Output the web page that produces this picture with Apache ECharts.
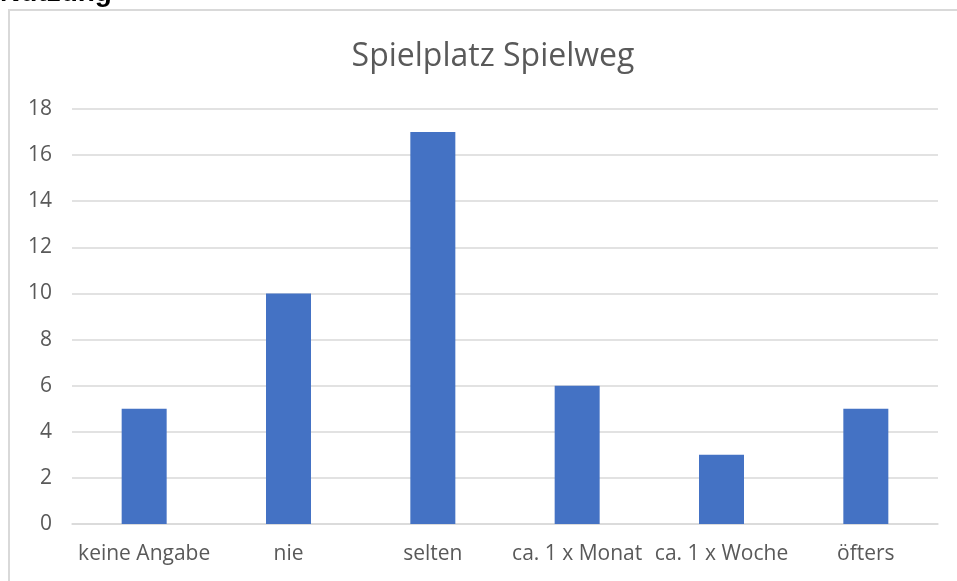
<!DOCTYPE html>
<html>
<head>
<meta charset="utf-8">
<script src="https://cdn.jsdelivr.net/npm/echarts@6/dist/echarts.min.js"></script>
<style>
  html, body { margin: 0; padding: 0; background: #fff; }
  #main { width: 957px; height: 581px; }
</style>
</head>
<body>
<div id="main"></div>
<script>
var categories = ['keine Angabe', 'nie', 'selten', 'ca. 1 x Monat', 'ca. 1 x Woche', 'öfters'];
var values = [5, 10, 17, 6, 3, 5];

var myChart = echarts.init(document.getElementById('main'));

var option = {
    backgroundColor: '#fff',
    animation: false,
    title: {
        text: 'Spielplatz Spielweg',
        left: 488,
        top: 36,
        textAlign: 'center',
        textStyle: {
            color: '#595959',
            fontSize: 32,
            fontWeight: 'normal',
            fontFamily: 'Open Sans'
        }
    },
    graphic: [
        {
            type: 'rect',
            shape: { x: 9, y: 10, width: 960, height: 600 },
            style: { fill: 'none', stroke: '#d9d9d9', lineWidth: 2 },
            z: -1
        },
        {
            type: 'text',
            x: 0,
            y: 7,
            style: {
                text: 'Nutzung',
                font: 'bold 28px "Liberation Sans"',
                fill: '#000',
                verticalAlign: 'bottom'
            }
        }
    ],
    grid: {
        top: 109,
        left: 72,
        right: 19,
        bottom: 57
    },
    xAxis: {
        type: 'category',
        data: categories,
        axisTick: { show: false },
        axisLine: { lineStyle: { color: '#d9d9d9', width: 1.5 } },
        axisLabel: {
            color: '#595959',
            fontSize: 21,
            fontFamily: 'Open Sans',
            margin: 20,
            interval: 0
        }
    },
    yAxis: {
        type: 'value',
        min: 0,
        max: 18,
        interval: 2,
        axisLine: { show: false },
        axisTick: { show: false },
        splitLine: { lineStyle: { color: '#d9d9d9', width: 1.5 } },
        axisLabel: {
            color: '#595959',
            fontSize: 21,
            fontFamily: 'Open Sans',
            margin: 20
        }
    },
    series: [
        {
            type: 'bar',
            data: values,
            barWidth: 45,
            itemStyle: { color: '#4472C4' }
        }
    ]
};

myChart.setOption(option);
</script>
</body>
</html>
